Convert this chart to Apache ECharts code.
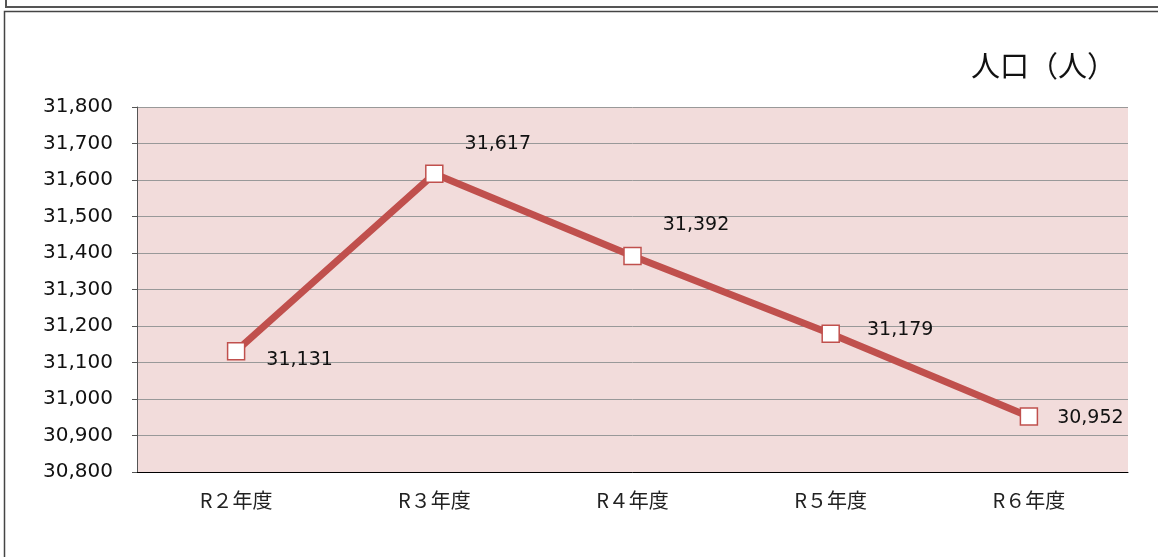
<!DOCTYPE html>
<html>
<head>
<meta charset="utf-8">
<script src="https://cdn.jsdelivr.net/npm/echarts@6/dist/echarts.min.js"></script>
<style>
  html, body { margin: 0; padding: 0; background: #fff; }
  #chart { width: 1158px; height: 557px; }
</style>
</head>
<body>
<div id="chart"></div>
<script>
const categories = ['R２年度', 'R３年度', 'R４年度', 'R５年度', 'R６年度']
const population = [31131, 31617, 31392, 31179, 30952]
const yMin = 30800
const yMax = 31800
const yStep = 100
const unitLabel = '人口（人）'

const chart = echarts.init(document.getElementById('chart'))

// 各ラベルの位置 (元の図に合わせて手で調整)
const labelOffsets = [[16, 9], [16, -30], [16, -31], [22, -4], [14, 2]]

const fmt = v => v.toLocaleString('en-US')
const font = '"Noto Sans CJK JP", "DejaVu Sans", sans-serif'
const numFont = '"DejaVu Sans", sans-serif'

const option = {
  animation: false,
  backgroundColor: '#fff',
  textStyle: { fontFamily: font },
  graphic: [
    {
      type: 'rect',
      shape: { x: 6, y: -10, width: 1160, height: 17 },
      style: { fill: 'none', stroke: '#555', lineWidth: 2 }
    },
    {
      type: 'rect',
      shape: { x: 4.5, y: 11.5, width: 1160, height: 560 },
      style: { fill: 'none', stroke: '#444', lineWidth: 1.5 }
    },
    {
      type: 'text',
      left: 971,
      top: 51,
      style: { text: unitLabel, fontSize: 29, fill: '#111', fontFamily: font }
    }
  ],
  grid: {
    left: 137,
    right: 30,
    top: 107,
    bottom: 85,
    show: true,
    backgroundColor: '#f2dcdb',
    borderWidth: 0
  },
  xAxis: {
    type: 'category',
    data: categories,
    boundaryGap: true,
    axisLine: { lineStyle: { color: '#000', width: 1 } },
    axisTick: { show: false },
    axisLabel: { color: '#222', fontSize: 20, margin: 18, fontFamily: font }
  },
  yAxis: {
    type: 'value',
    min: yMin,
    max: yMax,
    interval: yStep,
    axisLine: { show: true, lineStyle: { color: '#555', width: 1 } },
    axisTick: { show: true, length: 5, lineStyle: { color: '#555' } },
    axisLabel: {
      color: '#111',
      fontSize: 20,
      margin: 24,
      padding: [4, 0, 0, 0],
      fontFamily: numFont,
      formatter: v => fmt(v)
    },
    splitLine: { show: true, lineStyle: { color: '#999', width: 1 } }
  },
  series: [
    {
      type: 'line',
      data: population.map((v, i) => ({
        value: v,
        label: { offset: labelOffsets[i] }
      })),
      symbol: 'rect',
      symbolSize: 17,
      itemStyle: { color: '#fff', borderColor: '#c0504d', borderWidth: 1.5 },
      lineStyle: { color: '#c0504d', width: 7 },
      label: {
        show: true,
        position: 'right',
        color: '#111',
        fontSize: 19,
        fontFamily: numFont,
        formatter: p => fmt(p.value)
      },
      z: 3
    }
  ]
}

chart.setOption(option)
window.addEventListener('resize', () => {
  chart.resize()
})
</script>
</body>
</html>
